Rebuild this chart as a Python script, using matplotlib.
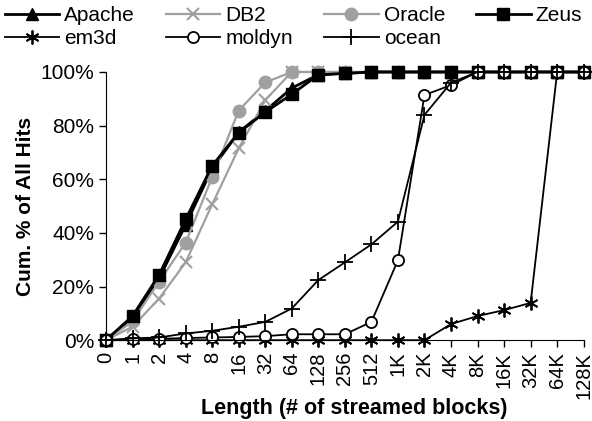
import numpy as np
import matplotlib
matplotlib.use('Agg')
import matplotlib.pyplot as plt

plt.rcParams['font.family'] = ['Liberation Sans', 'DejaVu Sans']

lengths = ['0', '1', '2', '4', '8', '16', '32', '64', '128', '256', '512',
           '1K', '2K', '4K', '8K', '16K', '32K', '64K', '128K']

apache = [0, 8.5, 23, 43, 64, 77.5, 85.5, 94, 99, 99.5, 100, 100, 100, 100, 100, 100, 100, 100, 100]
db2 = [0, 5, 15.5, 29, 50.6, 71.5, 89.5, 100, 100, 100, 100, 100, 100, 100, 100, 100, 100, 100, 100]
oracle = [0, 7, 21.8, 36.3, 60.7, 85.6, 96.1, 100, 100, 100, 100, 100, 100, 100, 100, 100, 100, 100, 100]
zeus = [0, 9, 24.3, 45, 65, 77.4, 85, 91.7, 98.9, 99.5, 100, 100, 100, 100, 100, 100, 100, 100, 100]
em3d = [0, 0, 0, 0, 0, 0, 0, 0, 0, 0, 0, 0, 0, 6, 9, 11.2, 13.9, 100, 100]
moldyn = [0, 0.3, 0.5, 0.8, 1, 1.2, 1.5, 2.2, 2.2, 2.2, 6.8, 29.8, 91.4, 95.1, 100, 100, 100, 100, 100]
ocean = [0, 0.7, 1, 2.5, 3.5, 5, 6.8, 11.8, 22.4, 29, 35.7, 44.2, 84, 96, 100, 100, 100, 100, 100]

gray = '#a0a0a0'
x = np.arange(len(lengths))

fig = plt.figure(figsize=(5.92, 4.21), dpi=100)
ax = fig.add_axes([0.179, 0.192, 0.807, 0.637])

h_apache, = ax.plot(x, apache, color='black', lw=2, marker='^', ms=9, label='Apache')
h_db2, = ax.plot(x, db2, color=gray, lw=1.6, marker='x', ms=9, mew=1.5, label='DB2')
h_oracle, = ax.plot(x, oracle, color=gray, lw=1.6, marker='o', ms=9, label='Oracle')
h_zeus, = ax.plot(x, zeus, color='black', lw=2, marker='s', ms=9, label='Zeus')
h_em3d, = ax.plot(x, em3d, color='black', lw=1.3, marker=(6, 2, 0), ms=10, mew=1.3, label='em3d')
h_moldyn, = ax.plot(x, moldyn, color='black', lw=1.3, marker='o', ms=8, mfc='white', mew=1.3, label='moldyn')
h_ocean, = ax.plot(x, ocean, color='black', lw=1.3, marker='+', ms=11, mew=1.3, label='ocean')

ax.set_xlim(0, len(lengths) - 1)
ax.set_ylim(0, 100)
ax.set_xticks(x)
ax.set_xticklabels(lengths, rotation=90, fontsize=14.5)
ax.set_yticks(np.arange(0, 101, 20))
ax.set_yticklabels(['%d%%' % v for v in range(0, 101, 20)], fontsize=15)
ax.tick_params(direction='out', length=5, width=1)
ax.spines['top'].set_visible(False)
ax.spines['right'].set_visible(False)
for line in ax.get_lines():
    line.set_clip_on(False)

ax.set_xlabel('Length (# of streamed blocks)', fontsize=15.5, fontweight='bold')
ax.xaxis.set_label_coords(0.52, -0.215)
ax.set_ylabel('Cum. % of All Hits', fontsize=15, fontweight='bold', labelpad=4)

# order so that rows read Apache/DB2/Oracle/Zeus then em3d/moldyn/ocean
handles = [h_apache, h_em3d, h_db2, h_moldyn, h_oracle, h_ocean, h_zeus]
fig.legend(handles=handles, labels=[h.get_label() for h in handles],
           loc='upper left', bbox_to_anchor=(0.008, 0.985), ncol=4, frameon=False,
           fontsize=15, handlelength=2.6, handletextpad=0.25, columnspacing=1.5,
           labelspacing=0.2, borderaxespad=0, borderpad=0)

fig.savefig('out.png', dpi=100)
